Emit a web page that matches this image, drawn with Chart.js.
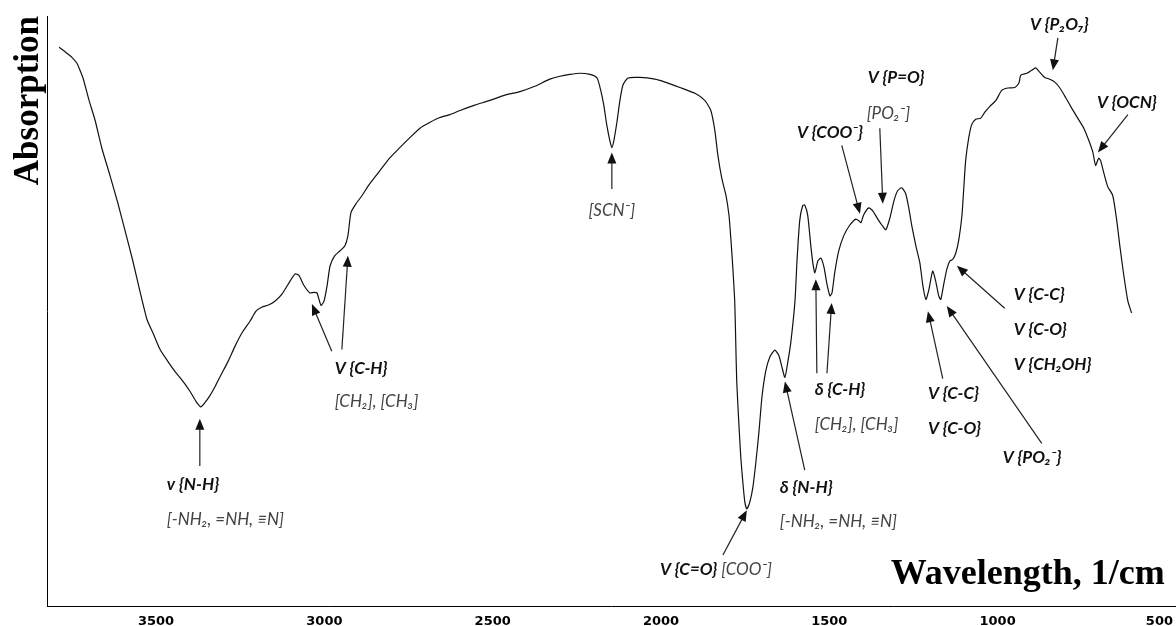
<!DOCTYPE html>
<html>
<head>
<meta charset="utf-8">
<script src="https://cdn.jsdelivr.net/npm/chart.js@4.4.1/dist/chart.umd.min.js"></script>
<style>
  html, body { margin: 0; padding: 0; background: #fff; overflow: hidden; }
  #marco { width: 1176px; height: 626px; overflow: hidden; }
</style>
</head>
<body>
<div id="marco"><canvas id="graficaEspectro" width="1193" height="636"></canvas></div>
<script>
// Espectro IR: número de onda (1/cm) y absorción (unidades arbitrarias)
var numerosOnda = [3788,3776,3765,3750,3735,3726,3717,3699,3681,3661,
  3637,3613,3592,3569,3548,3527,3509,3488,3465,3444,
  3420,3399,3381,3367,3355,3340,3325,3310,3286,3266,
  3245,3221,3203,3185,3168,3147,3126,3102,3087,3076,
  3061,3043,3031,3022,3010,3001,2992,2983,2969,2954,
  2939,2930,2921,2906,2888,2865,2835,2805,2776,2746,
  2716,2686,2657,2627,2597,2553,2508,2464,2419,2375,
  2330,2300,2271,2241,2211,2190,2179,2170,2161,2152,
  2146,2140,2131,2122,2113,2098,2063,2018,1988,1944,
  1899,1870,1852,1840,1831,1819,1807,1798,1792,1787,
  1781,1778,1775,1769,1763,1757,1751,1745,1736,1727,
  1718,1709,1700,1689,1677,1662,1650,1641,1632,1623,
  1614,1602,1596,1588,1579,1573,1564,1555,1549,1543,
  1534,1525,1516,1507,1498,1492,1484,1472,1457,1439,
  1421,1412,1406,1398,1383,1371,1356,1344,1332,1320,
  1308,1297,1285,1273,1264,1255,1243,1231,1222,1213,
  1204,1193,1184,1175,1169,1160,1151,1142,1133,1124,
  1115,1106,1100,1095,1086,1077,1065,1050,1038,1023,
  1005,988,970,949,937,931,913,899,887,875,
  860,845,830,815,798,780,762,744,729,717,
  709,700,694,685,673,658,646,637,625,613,
  602];

var absorcion = [94.7,94.2,93.7,93.0,92.0,90.8,89.5,85.7,82.3,77.6,
  73.0,68.2,63.6,58.5,53.4,48.6,46.3,43.5,41.5,39.8,
  38.1,36.4,34.7,33.8,34.5,35.7,37.2,38.9,41.5,44.0,
  46.3,48.3,50.0,50.7,51.0,51.7,52.9,55.1,56.3,56.1,
  54.4,53.1,53.2,53.1,51.0,51.7,54.3,57.7,59.4,60.2,
  61.1,62.8,66.7,68.2,69.6,71.6,73.8,76.0,77.7,79.4,
  81.0,82.0,82.8,83.3,84.0,84.9,85.7,86.6,87.2,88.1,
  89.3,89.8,90.1,90.3,90.1,89.5,87.4,84.9,81.5,78.9,
  77.7,78.9,82.0,85.7,88.3,89.5,89.6,89.3,88.8,87.9,
  86.9,85.7,84.0,80.6,76.4,72.4,69.6,66.2,61.9,57.7,
  51.7,44.9,38.1,31.3,25.3,21.1,17.7,16.5,17.7,20.2,
  24.5,29.6,35.5,39.8,42.2,43.4,42.5,40.6,38.8,41.5,
  44.9,51.7,58.5,65.3,67.9,68.0,66.2,61.1,58.2,56.5,
  58.5,59.0,57.5,54.6,52.6,53.1,56.5,60.2,62.8,64.6,
  65.6,65.3,65.0,66.3,67.5,67.0,65.6,64.6,63.8,65.8,
  68.7,70.4,70.9,69.9,67.5,64.5,61.1,58.2,54.3,52.0,
  53.7,56.8,55.1,52.6,52.0,54.6,57.1,58.5,58.8,59.9,
  62.2,66.2,71.3,75.5,79.3,81.6,82.5,82.7,83.7,84.7,
  85.7,87.4,87.8,87.9,88.6,90.0,90.3,90.8,91.2,90.5,
  89.6,89.3,88.8,87.8,86.2,84.4,82.7,81.0,78.9,76.9,
  74.7,75.9,75.5,73.5,71.1,69.6,65.3,61.1,56.0,51.7,
  49.7];

// Marcas del eje x
var marcasX = [3500, 3000, 2500, 2000, 1500, 1000, 500];

// Flechas: desde [número de onda, absorción] hasta [número de onda, absorción]
var flechas = [
  { desde: [3370, 23.8], hasta: [3370, 31.8] },   // N-H
  { desde: [2978, 43.2], hasta: [3037, 51.2] },   // C-H
  { desde: [2948, 43.5], hasta: [2930, 59.4] },
  { desde: [2146, 70.7], hasta: [2146, 76.9] },   // SCN
  { desde: [1816, 8.7],  hasta: [1745, 16.3] },   // C=O
  { desde: [1573, 23.1], hasta: [1632, 38.1] },   // δ N-H
  { desde: [1537, 39.5], hasta: [1540, 55.4] },   // δ C-H
  { desde: [1507, 39.5], hasta: [1493, 51.4] },
  { desde: [1463, 78.1], hasta: [1409, 66.5] },   // COO
  { desde: [1350, 81.0], hasta: [1341, 68.2] },   // P=O
  { desde: [1163, 38.6], hasta: [1207, 50.0] },   // C-C, C-O
  { desde: [869, 27.6],  hasta: [1151, 50.9] },   // PO2
  { desde: [979, 50.5],  hasta: [1121, 57.7] },   // C-C, C-O, CH2OH
  { desde: [821, 96.3],  hasta: [836, 90.8] },    // P2O7
  { desde: [613, 83.3],  hasta: [702, 76.9] }     // OCN
];

// Textos: posición izquierda [número de onda, absorción]; centrado si centro = true
var etiquetas = [
  { en: [3468, 20.7], partes: [['v {N-H}', true]] },
  { en: [3468, 14.8], partes: [['[-NH₂, =NH, ≡N]', false]] },
  { en: [2969, 40.3], partes: [['V {C-H}', true]] },
  { en: [2969, 34.7], partes: [['[CH₂], [CH₃]', false]] },
  { en: [2146, 67.0], partes: [['[SCN⁻]', false]], centro: true },
  { en: [2003, 6.3],  partes: [['V {C=O}', true], [' [COO⁻]', false]] },
  { en: [1647, 20.2], partes: [['δ {N-H}', true]] },
  { en: [1647, 14.3], partes: [['[-NH₂, =NH, ≡N]', false]] },
  { en: [1543, 36.7], partes: [['δ {C-H}', true]] },
  { en: [1543, 30.8], partes: [['[CH₂], [CH₃]', false]] },
  { en: [1596, 80.3], partes: [['V {COO⁻}', true]] },
  { en: [1386, 89.5], partes: [['V {P=O}', true]] },
  { en: [1389, 83.5], partes: [['[PO₂⁻]', false]] },
  { en: [1207, 36.1], partes: [['V {C-C}', true]] },
  { en: [1207, 30.1], partes: [['V {C-O}', true]] },
  { en: [985, 25.3],  partes: [['V {PO₂⁻}', true]] },
  { en: [952, 52.9],  partes: [['V {C-C}', true]] },
  { en: [952, 46.9],  partes: [['V {C-O}', true]] },
  { en: [952, 41.0],  partes: [['V {CH₂OH}', true]] },
  { en: [904, 98.5],  partes: [['V {P₂O₇}', true]] },
  { en: [705, 85.4],  partes: [['V {OCN}', true]] }
];

var puntos = numerosOnda.map(function (w, i) { return { x: w, y: absorcion[i] }; });

var fuenteNota = '17px Lato, "Open Sans", sans-serif';

var notasPlugin = {
  id: 'notas',
  afterDatasetsDraw: function (chart) {
    var ctx = chart.ctx;
    var sx = chart.scales.x, sy = chart.scales.y;
    ctx.save();
    ctx.strokeStyle = '#222';
    ctx.fillStyle = '#111';
    ctx.lineWidth = 1.2;
    flechas.forEach(function (f) {
      var x1 = sx.getPixelForValue(f.desde[0]), y1 = sy.getPixelForValue(f.desde[1]);
      var x2 = sx.getPixelForValue(f.hasta[0]), y2 = sy.getPixelForValue(f.hasta[1]);
      var a = Math.atan2(y2 - y1, x2 - x1);
      var c = Math.cos(a), s = Math.sin(a);
      ctx.beginPath();
      ctx.moveTo(x1, y1);
      ctx.lineTo(x2 - c * 9, y2 - s * 9);
      ctx.stroke();
      ctx.beginPath();
      ctx.moveTo(x2, y2);
      ctx.lineTo(x2 - c * 11 + s * 4.5, y2 - s * 11 - c * 4.5);
      ctx.lineTo(x2 - c * 11 - s * 4.5, y2 - s * 11 + c * 4.5);
      ctx.closePath();
      ctx.fill();
    });

    ctx.textBaseline = 'middle';
    ctx.textAlign = 'left';
    etiquetas.forEach(function (e) {
      var x = sx.getPixelForValue(e.en[0]), y = sy.getPixelForValue(e.en[1]);
      var total = 0;
      e.partes.forEach(function (p) {
        ctx.font = (p[1] ? 'italic bold ' : 'italic ') + fuenteNota;
        total += ctx.measureText(p[0]).width;
      });
      if (e.centro) x -= total / 2;
      e.partes.forEach(function (p) {
        ctx.font = (p[1] ? 'italic bold ' : 'italic ') + fuenteNota;
        ctx.fillStyle = p[1] ? '#111' : '#444';
        ctx.fillText(p[0], x, y);
        x += ctx.measureText(p[0]).width;
      });
    });

    // título del eje x, dentro del área
    ctx.font = 'bold 36px "Liberation Serif", "Times New Roman", serif';
    ctx.fillStyle = '#000';
    ctx.textAlign = 'right';
    ctx.textBaseline = 'alphabetic';
    ctx.fillText('Wavelength, 1/cm', chart.chartArea.right - 11, chart.chartArea.bottom - 22);
    ctx.restore();
  }
};

var ctxEspectro = document.getElementById('graficaEspectro').getContext('2d');
var graficaEspectro = new Chart(ctxEspectro, {
  type: 'line',
  data: {
    datasets: [{
      label: 'Absorption',
      data: puntos,
      borderColor: '#111',
      borderWidth: 1.2,
      pointRadius: 0,
      tension: 0.2,
      fill: false
    }]
  },
  options: {
    responsive: false,
    animation: false,
    layout: { padding: { left: 1, top: 16, right: 0, bottom: 0 } },
    plugins: { legend: { display: false }, tooltip: { enabled: false } },
    scales: {
      x: {
        type: 'linear',
        reverse: true,
        min: 471,
        max: 3824,
        grid: { display: false, drawTicks: false },
        border: { display: true, color: '#000', width: 1 },
        afterBuildTicks: function (axis) {
          axis.ticks = marcasX.map(function (v) { return { value: v }; });
        },
        ticks: {
          color: '#000',
          padding: 7,
          maxRotation: 0,
          autoSkip: false,
          font: { family: '"DejaVu Sans", Verdana, sans-serif', size: 13, weight: 'bold' },
          callback: function (v) { return v === 500 ? '500\u2002\u2002' : String(v); }
        }
      },
      y: {
        min: 0,
        max: 100,
        grid: { display: false, drawTicks: false },
        border: { display: true, color: '#000', width: 1 },
        ticks: { display: false },
        title: {
          display: true,
          text: 'Absorption',
          align: 'end',
          color: '#000',
          padding: { top: 10, bottom: 1 },
          font: { family: '"Liberation Serif", "Times New Roman", serif', size: 35, weight: 'bold', lineHeight: 1 }
        }
      }
    }
  },
  plugins: [notasPlugin]
});
</script>
</body>
</html>
